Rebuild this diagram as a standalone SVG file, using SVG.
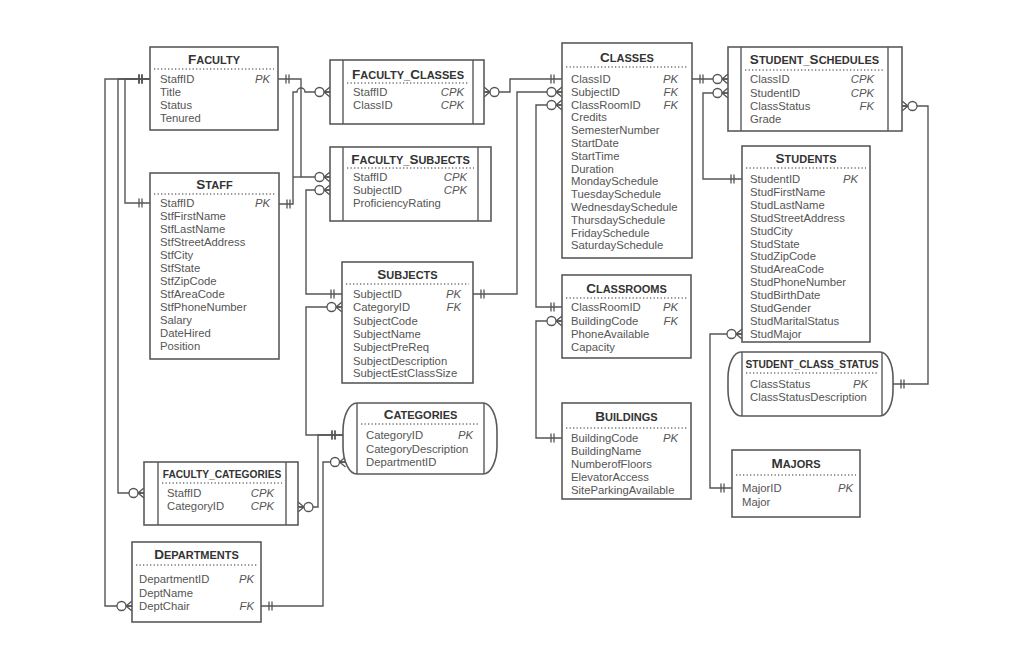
<svg xmlns="http://www.w3.org/2000/svg" width="1024" height="668" viewBox="0 0 1024 668">
<style>
.bg{fill:#fff}
.box{fill:#fff;stroke:#5a5a5a;stroke-width:1.6}
.in{stroke:#5a5a5a;stroke-width:1.4;fill:none}
.sep{stroke:#777;stroke-width:1.3;stroke-dasharray:1.3 2.2}
.t{font-family:"Liberation Sans",Arial,sans-serif;font-weight:bold;font-size:11px;fill:#333;text-anchor:middle}
.c{font-size:13.5px}
.ts{font-family:"Liberation Sans",Arial,sans-serif;font-weight:bold;font-size:10.2px;fill:#333;text-anchor:middle}
.r{font-family:"Liberation Sans",Arial,sans-serif;font-size:11.3px;fill:#555}
.k{font-style:italic;text-anchor:end}
.ln{fill:none;stroke:#555;stroke-width:1.4}
.m{fill:none;stroke:#555;stroke-width:1.3}
.mc{fill:#fff;stroke:#555;stroke-width:1.3}
</style>
<defs>
<marker id="one" markerUnits="userSpaceOnUse" viewBox="-20 -20 40 40" markerWidth="40" markerHeight="40" refX="0" refY="0" orient="auto-start-reverse" overflow="visible">
<path class="m" d="M-11,-4.5 V4.5 M-8,-4.5 V4.5"/>
</marker>
<marker id="many" markerUnits="userSpaceOnUse" viewBox="-20 -20 40 40" markerWidth="40" markerHeight="40" refX="0" refY="0" orient="auto-start-reverse" overflow="visible">
<path class="m" d="M0,-5 L-6,0 L0,5 M-6,0 H0"/>
<circle class="mc" cx="-10.5" cy="0" r="4.5"/>
</marker>
</defs>
<rect class="bg" x="0" y="0" width="1024" height="668"/>

<g id="connectors">
<path class="ln" marker-start="url(#one)" marker-end="url(#one)" d="M150,79 H125 V203 H150"/>
<path class="ln" marker-start="url(#one)" marker-end="url(#many)" d="M150,79 H118 V493 H144"/>
<path class="ln" marker-start="url(#one)" marker-end="url(#many)" d="M150,79 H105 V606 H132"/>
<path class="ln" marker-start="url(#one)" marker-end="url(#many)" d="M278,79 H301 V177 H330"/>
<path class="ln" marker-start="url(#one)" marker-end="url(#many)" d="M279,204 H293 V92 H297 A4,4 0 0 1 305,92 H330"/>
<path class="ln" d="M293,177 H301"/>
<path class="ln" marker-start="url(#one)" marker-end="url(#many)" d="M342,294 H306 V190 H330"/>
<path class="ln" marker-start="url(#one)" marker-end="url(#many)" d="M343,435 H306 V307 H342"/>
<path class="ln" marker-start="url(#one)" marker-end="url(#many)" d="M343,435 H318 V507 H298"/>
<path class="ln" marker-start="url(#one)" marker-end="url(#many)" d="M261,606 H323 V462 H345.5"/>
<path class="ln" marker-start="url(#one)" marker-end="url(#many)" d="M562,79 H510 V92 H484"/>
<path class="ln" marker-start="url(#one)" marker-end="url(#many)" d="M473,294 H517 V92 H562"/>
<path class="ln" marker-start="url(#one)" marker-end="url(#many)" d="M562,307 H536 V105 H562"/>
<path class="ln" marker-start="url(#one)" marker-end="url(#many)" d="M562,438 H536 V321 H562"/>
<path class="ln" marker-start="url(#one)" marker-end="url(#many)" d="M692,79 H728"/>
<path class="ln" marker-start="url(#one)" marker-end="url(#many)" d="M742,179 H703 V93 H728"/>
<path class="ln" marker-start="url(#one)" marker-end="url(#many)" d="M893,384 H928 V106 H902"/>
<path class="ln" marker-start="url(#one)" marker-end="url(#many)" d="M732,488 H710 V334 H742"/>
</g>

<g id="faculty">
<rect class="box" x="150" y="47" width="128" height="83"/>
<text class="t" x="214" y="64"><tspan class="c">F</tspan>ACULTY</text>
<line class="sep" x1="154" y1="69" x2="274" y2="69"/>
<text class="r" x="160" y="83">StaffID</text><text class="r k" x="270" y="83">PK</text>
<text class="r" x="160" y="96">Title</text>
<text class="r" x="160" y="109">Status</text>
<text class="r" x="160" y="122">Tenured</text>
</g>

<g id="staff">
<rect class="box" x="150" y="173" width="129" height="186"/>
<text class="t" x="214.5" y="189"><tspan class="c">S</tspan>TAFF</text>
<line class="sep" x1="154" y1="194" x2="275" y2="194"/>
<text class="r" x="160" y="207">StaffID</text><text class="r k" x="270" y="207">PK</text>
<text class="r" x="160" y="220">StfFirstName</text>
<text class="r" x="160" y="233">StfLastName</text>
<text class="r" x="160" y="246">StfStreetAddress</text>
<text class="r" x="160" y="259">StfCity</text>
<text class="r" x="160" y="272">StfState</text>
<text class="r" x="160" y="285">StfZipCode</text>
<text class="r" x="160" y="298">StfAreaCode</text>
<text class="r" x="160" y="311">StfPhoneNumber</text>
<text class="r" x="160" y="324">Salary</text>
<text class="r" x="160" y="337">DateHired</text>
<text class="r" x="160" y="350">Position</text>
</g>

<g id="faculty_classes">
<rect class="box" x="330" y="60" width="154" height="64"/>
<path class="in" d="M343,60 V124 M473,60 V124"/>
<text class="t" x="408" y="79"><tspan class="c">F</tspan>ACULTY_<tspan class="c">C</tspan>LASSES</text>
<line class="sep" x1="347" y1="83" x2="469" y2="83"/>
<text class="r" x="353" y="96">StaffID</text><text class="r k" x="464" y="96">CPK</text>
<text class="r" x="353" y="109">ClassID</text><text class="r k" x="464" y="109">CPK</text>
</g>

<g id="faculty_subjects">
<rect class="box" x="330" y="147" width="161" height="74"/>
<path class="in" d="M343,147 V221 M478,147 V221"/>
<text class="t" x="410.5" y="164"><tspan class="c">F</tspan>ACULTY_<tspan class="c">S</tspan>UBJECTS</text>
<line class="sep" x1="347" y1="168" x2="474" y2="168"/>
<text class="r" x="353" y="181">StaffID</text><text class="r k" x="467" y="181">CPK</text>
<text class="r" x="353" y="194">SubjectID</text><text class="r k" x="467" y="194">CPK</text>
<text class="r" x="353" y="207">ProficiencyRating</text>
</g>

<g id="subjects">
<rect class="box" x="342" y="262" width="131" height="121"/>
<text class="t" x="407.5" y="279"><tspan class="c">S</tspan>UBJECTS</text>
<line class="sep" x1="346" y1="284" x2="469" y2="284"/>
<text class="r" x="353" y="298">SubjectID</text><text class="r k" x="461" y="298">PK</text>
<text class="r" x="353" y="311">CategoryID</text><text class="r k" x="461" y="311">FK</text>
<text class="r" x="353" y="324.5">SubjectCode</text>
<text class="r" x="353" y="338">SubjectName</text>
<text class="r" x="353" y="351">SubjectPreReq</text>
<text class="r" x="353" y="364.5">SubjectDescription</text>
<text class="r" x="353" y="377">SubjectEstClassSize</text>
</g>

<g id="categories">
<rect class="box" x="343" y="403" width="154" height="71" rx="14" ry="28"/>
<path class="in" d="M357,403 V474 M484,403 V474"/>
<text class="t" x="420.5" y="419"><tspan class="c">C</tspan>ATEGORIES</text>
<line class="sep" x1="361" y1="424" x2="480" y2="424"/>
<text class="r" x="366" y="439">CategoryID</text><text class="r k" x="473" y="439">PK</text>
<text class="r" x="366" y="452.5">CategoryDescription</text>
<text class="r" x="366" y="466">DepartmentID</text>
</g>

<g id="faculty_categories">
<rect class="box" x="144" y="462" width="154" height="63"/>
<path class="in" d="M158,462 V525 M286,462 V525"/>
<text class="ts" x="222" y="478">FACULTY_CATEGORIES</text>
<line class="sep" x1="162" y1="483" x2="282" y2="483"/>
<text class="r" x="167" y="497">StaffID</text><text class="r k" x="274" y="497">CPK</text>
<text class="r" x="167" y="510">CategoryID</text><text class="r k" x="274" y="510">CPK</text>
</g>

<g id="departments">
<rect class="box" x="132" y="542" width="129" height="80"/>
<text class="t" x="196.5" y="559"><tspan class="c">D</tspan>EPARTMENTS</text>
<line class="sep" x1="136" y1="565" x2="257" y2="565"/>
<text class="r" x="139" y="583">DepartmentID</text><text class="r k" x="254" y="583">PK</text>
<text class="r" x="139" y="596.5">DeptName</text>
<text class="r" x="139" y="610">DeptChair</text><text class="r k" x="254" y="610">FK</text>
</g>

<g id="classes">
<rect class="box" x="562" y="43" width="130" height="215"/>
<text class="t" x="627" y="62"><tspan class="c">C</tspan>LASSES</text>
<line class="sep" x1="566" y1="67" x2="688" y2="67"/>
<text class="r" x="571" y="83">ClassID</text><text class="r k" x="678" y="83">PK</text>
<text class="r" x="571" y="95.8">SubjectID</text><text class="r k" x="678" y="95.8">FK</text>
<text class="r" x="571" y="108.6">ClassRoomID</text><text class="r k" x="678" y="108.6">FK</text>
<text class="r" x="571" y="121.4">Credits</text>
<text class="r" x="571" y="134.2">SemesterNumber</text>
<text class="r" x="571" y="147">StartDate</text>
<text class="r" x="571" y="159.8">StartTime</text>
<text class="r" x="571" y="172.6">Duration</text>
<text class="r" x="571" y="185.4">MondaySchedule</text>
<text class="r" x="571" y="198.2">TuesdaySchedule</text>
<text class="r" x="571" y="211">WednesdaySchedule</text>
<text class="r" x="571" y="223.8">ThursdaySchedule</text>
<text class="r" x="571" y="236.6">FridaySchedule</text>
<text class="r" x="571" y="249.4">SaturdaySchedule</text>
</g>

<g id="classrooms">
<rect class="box" x="562" y="275" width="129" height="83"/>
<text class="t" x="626.5" y="293"><tspan class="c">C</tspan>LASSROOMS</text>
<line class="sep" x1="566" y1="298" x2="687" y2="298"/>
<text class="r" x="571" y="311">ClassRoomID</text><text class="r k" x="678" y="311">PK</text>
<text class="r" x="571" y="325">BuildingCode</text><text class="r k" x="678" y="325">FK</text>
<text class="r" x="571" y="338">PhoneAvailable</text>
<text class="r" x="571" y="351">Capacity</text>
</g>

<g id="buildings">
<rect class="box" x="562" y="403" width="129" height="96"/>
<text class="t" x="626.5" y="421"><tspan class="c">B</tspan>UILDINGS</text>
<line class="sep" x1="566" y1="428" x2="687" y2="428"/>
<text class="r" x="571" y="442">BuildingCode</text><text class="r k" x="678" y="442">PK</text>
<text class="r" x="571" y="455">BuildingName</text>
<text class="r" x="571" y="468">NumberofFloors</text>
<text class="r" x="571" y="481">ElevatorAccess</text>
<text class="r" x="571" y="494">SiteParkingAvailable</text>
</g>

<g id="student_schedules">
<rect class="box" x="728" y="47" width="174" height="84"/>
<path class="in" d="M741,47 V131 M888,47 V131"/>
<text class="t" x="814.5" y="64"><tspan class="c">S</tspan>TUDENT_<tspan class="c">S</tspan>CHEDULES</text>
<line class="sep" x1="745" y1="70" x2="884" y2="70"/>
<text class="r" x="750" y="83">ClassID</text><text class="r k" x="874" y="83">CPK</text>
<text class="r" x="750" y="97">StudentID</text><text class="r k" x="874" y="97">CPK</text>
<text class="r" x="750" y="110">ClassStatus</text><text class="r k" x="874" y="110">FK</text>
<text class="r" x="750" y="123">Grade</text>
</g>

<g id="students">
<rect class="box" x="742" y="146" width="128" height="196"/>
<text class="t" x="806" y="163"><tspan class="c">S</tspan>TUDENTS</text>
<line class="sep" x1="746" y1="168" x2="866" y2="168"/>
<text class="r" x="750" y="183">StudentID</text><text class="r k" x="858" y="183">PK</text>
<text class="r" x="750" y="195.9">StudFirstName</text>
<text class="r" x="750" y="208.8">StudLastName</text>
<text class="r" x="750" y="221.7">StudStreetAddress</text>
<text class="r" x="750" y="234.6">StudCity</text>
<text class="r" x="750" y="247.5">StudState</text>
<text class="r" x="750" y="260.4">StudZipCode</text>
<text class="r" x="750" y="273.3">StudAreaCode</text>
<text class="r" x="750" y="286.2">StudPhoneNumber</text>
<text class="r" x="750" y="299.1">StudBirthDate</text>
<text class="r" x="750" y="312">StudGender</text>
<text class="r" x="750" y="324.9">StudMaritalStatus</text>
<text class="r" x="750" y="337.8">StudMajor</text>
</g>

<g id="student_class_status">
<rect class="box" x="728" y="352" width="165" height="64" rx="13" ry="26"/>
<path class="in" d="M742,352 V416 M882,352 V416"/>
<text class="ts" x="812" y="368">STUDENT_CLASS_STATUS</text>
<line class="sep" x1="746" y1="373" x2="878" y2="373"/>
<text class="r" x="750" y="388">ClassStatus</text><text class="r k" x="868" y="388">PK</text>
<text class="r" x="750" y="401">ClassStatusDescription</text>
</g>

<g id="majors">
<rect class="box" x="732" y="450" width="128" height="67"/>
<text class="t" x="796" y="468"><tspan class="c">M</tspan>AJORS</text>
<line class="sep" x1="736" y1="475" x2="856" y2="475"/>
<text class="r" x="742" y="492">MajorID</text><text class="r k" x="853" y="492">PK</text>
<text class="r" x="742" y="506">Major</text>
</g>
</svg>
